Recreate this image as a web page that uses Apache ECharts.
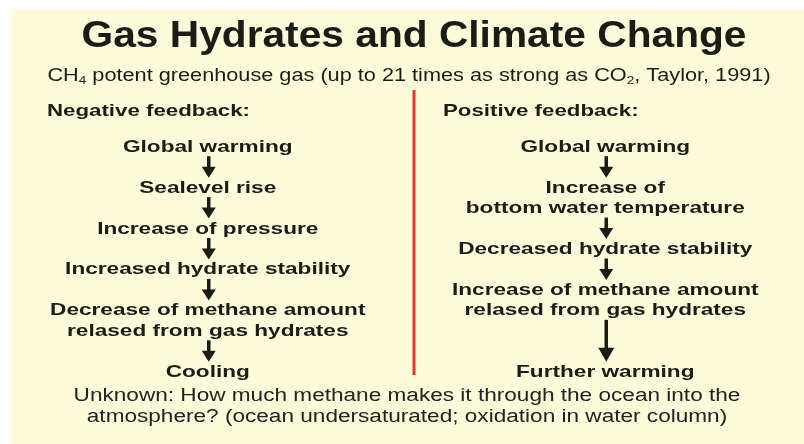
<!DOCTYPE html>
<html>
<head>
<meta charset="utf-8">
<script src="https://cdn.jsdelivr.net/npm/echarts@6/dist/echarts.min.js"></script>
<style>
  html, body { margin: 0; padding: 0; background: #fff; }
  #chart { width: 804px; height: 444px; }
</style>
</head>
<body>
<div id="chart"></div>
<script>
// text content of the slide
const titleText = 'Gas Hydrates and Climate Change'
const subtitleParts = ['CH', '4', ' potent greenhouse gas (up to 21 times as strong as CO', '2', ', Taylor, 1991)']
const columnHeaders = ['Negative feedback:', 'Positive feedback:']
const negativeSteps = [
  'Global warming',
  'Sealevel rise',
  'Increase of pressure',
  'Increased hydrate stability',
  'Decrease of methane amount\nrelased from gas hydrates',
  'Cooling'
]
const positiveSteps = [
  'Global warming',
  'Increase of\nbottom water temperature',
  'Decreased hydrate stability',
  'Increase of methane amount\nrelased from gas hydrates',
  'Further warming'
]
const noteLines = [
  'Unknown: How much methane makes it through the ocean into the',
  'atmosphere? (ocean undersaturated; oxidation in water column)'
]

const FONT = '"Liberation Sans", Arial, Helvetica, sans-serif'
const INK = '#1c1c17'

// lay each column out on a row grid: one row per text line, one per arrow.
// the last arrow of the shorter column is stretched so both chains end together
function rowCount(steps) {
  return steps.reduce((n, s) => n + s.split('\n').length, 0) + steps.length - 1
}
const totalRows = Math.max(rowCount(negativeSteps), rowCount(positiveSteps))

const stepItems = []
const arrowItems = []
;[negativeSteps, positiveSteps].forEach((steps, col) => {
  const extra = totalRows - rowCount(steps)
  let row = 0
  steps.forEach((text, i) => {
    const n = text.split('\n').length
    stepItems.push({ value: [col, row + (n - 1) / 2], text })
    row += n
    if (i < steps.length - 1) {
      const len = i === steps.length - 2 ? 1 + extra : 1
      arrowItems.push({ value: [col, row, row + len - 1] })
      row += len
    }
  })
})

const chart = echarts.init(document.getElementById('chart'))

function renderStep(params, api) {
  const p = api.coord([api.value(0), api.value(1)])
  const rowH = api.size([0, 1])[1]
  return {
    type: 'text',
    x: p[0],
    y: p[1],
    scaleX: 1.33,
    style: {
      text: stepItems[params.dataIndex].text,
      font: 'bold 17px ' + FONT,
      fill: INK,
      align: 'center',
      verticalAlign: 'middle',
      lineHeight: rowH
    }
  }
}

function renderArrow(params, api) {
  const col = api.value(0)
  const top = api.coord([col, api.value(1) - 0.55])
  const tip = api.coord([col, api.value(2) + 0.5])
  const long = api.value(2) > api.value(1)
  const headW = long ? 16 : 14
  const headH = long ? 14 : 11
  const x = top[0] + 1
  return {
    type: 'group',
    children: [
      {
        type: 'rect',
        shape: { x: x - 1.75, y: top[1], width: 3.5, height: tip[1] - headH - top[1] + 1 },
        style: { fill: INK }
      },
      {
        type: 'polygon',
        shape: { points: [[x - headW / 2, tip[1] - headH], [x + headW / 2, tip[1] - headH], [x, tip[1]]] },
        style: { fill: INK }
      }
    ]
  }
}

const option = {
  animation: false,
  backgroundColor: '#ffffff',
  graphic: [
    { type: 'rect', z: -10, shape: { x: 11, y: 9, width: 793, height: 435 }, style: { fill: '#fdfcda' } },
    {
      type: 'text', x: 414, y: 37, scaleX: 1.1,
      style: { text: titleText, font: 'bold 37px ' + FONT, fill: INK, align: 'center', verticalAlign: 'middle' }
    },
    {
      type: 'text', x: 409, y: 76, scaleX: 1.24,
      style: {
        text: subtitleParts.map((t, i) => (i % 2 ? '{sub|' + t + '}' : '{n|' + t + '}')).join(''),
        align: 'center', verticalAlign: 'middle',
        rich: {
          n: { font: '17.5px ' + FONT, fill: INK, lineHeight: 20 },
          sub: { font: '11px ' + FONT, fill: INK, lineHeight: 20, verticalAlign: 'bottom', padding: [6, 0, 0, 0] }
        }
      }
    },
    {
      type: 'text', x: 47, y: 111, scaleX: 1.31,
      style: { text: columnHeaders[0], font: 'bold 17px ' + FONT, fill: INK, align: 'left', verticalAlign: 'middle' }
    },
    {
      type: 'text', x: 443, y: 111, scaleX: 1.31,
      style: { text: columnHeaders[1], font: 'bold 17px ' + FONT, fill: INK, align: 'left', verticalAlign: 'middle' }
    },
    {
      type: 'line', shape: { x1: 414, y1: 90, x2: 414, y2: 375 },
      style: { stroke: '#e2372b', lineWidth: 3 }
    },
    {
      type: 'text', x: 407, y: 406.5, scaleX: 1.255,
      style: { text: noteLines.join('\n'), font: '18px ' + FONT, fill: '#222', align: 'center', verticalAlign: 'middle', lineHeight: 21 }
    }
  ],
  grid: { left: 9, top: 147, width: 804, height: 225 },
  xAxis: { type: 'category', data: columnHeaders, show: false },
  yAxis: { type: 'value', min: 0, max: totalRows - 1, inverse: true, show: false },
  series: [
    {
      type: 'custom',
      name: 'steps',
      renderItem: renderStep,
      data: stepItems.map(d => d.value),
      silent: true
    },
    {
      type: 'custom',
      name: 'arrows',
      renderItem: renderArrow,
      data: arrowItems.map(d => d.value),
      silent: true
    }
  ]
}

chart.setOption(option)
</script>
</body>
</html>
